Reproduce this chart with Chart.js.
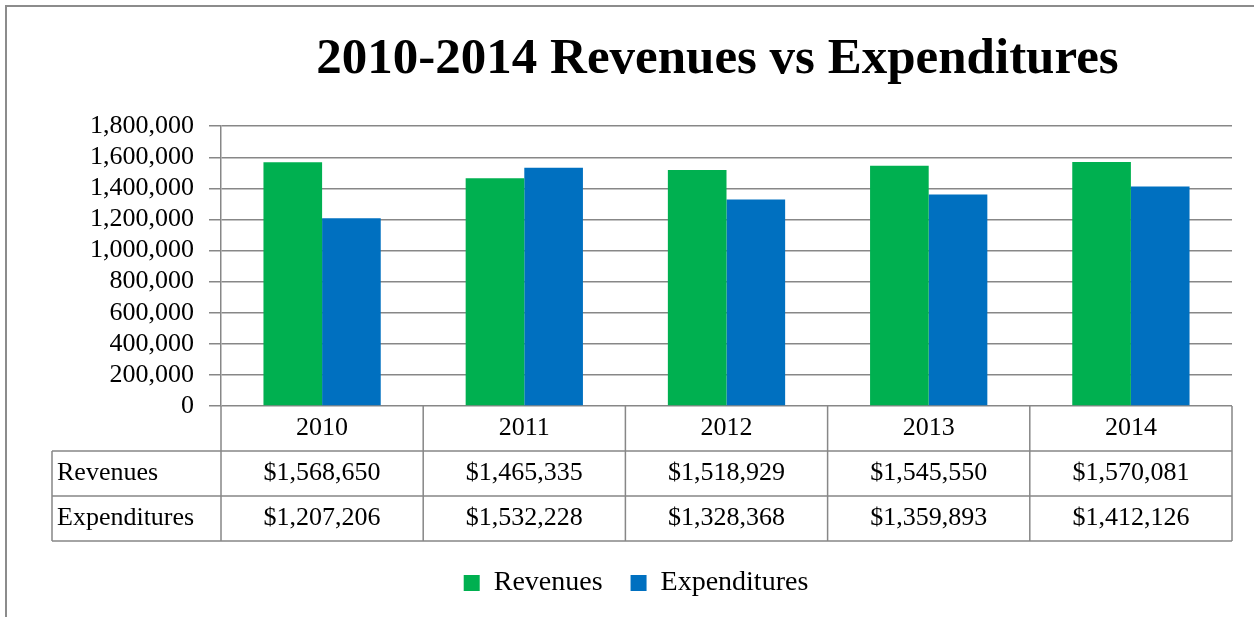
<!DOCTYPE html>
<html>
<head>
<meta charset="utf-8">
<title>2010-2014 Revenues vs Expenditures</title>
<script src="https://cdn.jsdelivr.net/npm/chart.js@4.4.1/dist/chart.umd.min.js"></script>
<style>
  html, body { margin: 0; padding: 0; background: #fff; }
  #chart-wrap { width: 1254px; height: 617px; }
</style>
</head>
<body>
<div id="chart-wrap"><canvas id="rev-chart" width="1254" height="617"></canvas></div>
<script>
// Chart data
const years = ['2010', '2011', '2012', '2013', '2014'];
const revenues = [1568650, 1465335, 1518929, 1545550, 1570081];
const expenditures = [1207206, 1532228, 1328368, 1359893, 1412126];
const seriesNames = ['Revenues', 'Expenditures'];
const yMax = 1800000;
const yStep = 200000;

const FONT = "'Liberation Serif', 'Times New Roman', serif";
const GRID = '#878787';
const GREEN = '#00b050';
const BLUE = '#0070c0';

// 1234567 -> "1,234,567"
function withCommas(v) {
  return String(Math.round(v)).replace(/\B(?=(\d{3})+(?!\d))/g, ',');
}

// White background + the chart frame (top and left edges only are visible)
const framePlugin = {
  id: 'frame',
  beforeDraw(chart) {
    const { ctx, width, height } = chart;
    ctx.save();
    ctx.fillStyle = '#fff';
    ctx.fillRect(0, 0, width, height);
    ctx.strokeStyle = '#8c8c8c';
    ctx.lineWidth = 2;
    ctx.beginPath();
    ctx.moveTo(6, height);
    ctx.lineTo(6, 6);
    ctx.lineTo(width, 6);
    ctx.stroke();
    ctx.restore();
  }
};

// Excel style data table under the plot area
const dataTablePlugin = {
  id: 'dataTable',
  afterDraw(chart) {
    const { ctx, chartArea } = chart;
    const x = chart.scales.x;
    const rowH = 45;
    const top = chartArea.bottom;
    const labelLeft = 52;
    const half = (chartArea.right - chartArea.left) / years.length / 2;

    ctx.save();
    ctx.strokeStyle = GRID;
    ctx.lineWidth = 1.5;
    ctx.beginPath();
    // horizontal rules
    for (let r = 1; r <= 3; r++) {
      ctx.moveTo(labelLeft, top + r * rowH);
      ctx.lineTo(chartArea.right, top + r * rowH);
    }
    // vertical rules between categories
    for (let i = 0; i < years.length; i++) {
      const left = x.getPixelForValue(i) - half;
      ctx.moveTo(left, top);
      ctx.lineTo(left, top + 3 * rowH);
    }
    ctx.moveTo(chartArea.right, top);
    ctx.lineTo(chartArea.right, top + 3 * rowH);
    ctx.moveTo(labelLeft, top + rowH);
    ctx.lineTo(labelLeft, top + 3 * rowH);
    ctx.stroke();

    ctx.fillStyle = '#000';
    ctx.font = '26px ' + FONT;
    ctx.textBaseline = 'middle';

    // row labels
    ctx.textAlign = 'left';
    ctx.fillText(seriesNames[0], labelLeft + 5, top + rowH * 1.5);
    ctx.fillText(seriesNames[1], labelLeft + 5, top + rowH * 2.5);

    // years + values
    ctx.textAlign = 'center';
    years.forEach((yr, i) => {
      const cx = x.getPixelForValue(i);
      ctx.fillText(yr, cx, top + rowH * 0.5);
      ctx.fillText('$' + withCommas(revenues[i]), cx, top + rowH * 1.5);
      ctx.fillText('$' + withCommas(expenditures[i]), cx, top + rowH * 2.5);
    });
    ctx.restore();
  }
};

// Nudge title and legend sideways so they sit like the original
const nudgePlugin = {
  id: 'nudge',
  afterLayout(chart) {
    if (chart.legend) {
      chart.legend.left += 20;
      chart.legend.right += 20;
    }
    if (chart.titleBlock) {
      chart.titleBlock.left -= 9;
      chart.titleBlock.right -= 9;
    }
  }
};

const canvas = document.getElementById('rev-chart');

new Chart(canvas, {
  type: 'bar',
  data: {
    labels: years,
    datasets: [
      {
        label: seriesNames[0],
        data: revenues,
        backgroundColor: GREEN,
        borderWidth: 0
      },
      {
        label: seriesNames[1],
        data: expenditures,
        backgroundColor: BLUE,
        borderWidth: 0
      }
    ]
  },
  options: {
    responsive: false,
    animation: false,
    categoryPercentage: 0.58,
    barPercentage: 1.0,
    layout: {
      padding: { left: 0, right: 22, top: 0, bottom: 10 }
    },
    plugins: {
      title: {
        display: true,
        text: '2010-2014 Revenues vs Expenditures',
        fullSize: false,
        color: '#000',
        font: { family: FONT, size: 51, weight: 'bold' },
        padding: { top: 29, bottom: 36 }
      },
      legend: {
        position: 'bottom',
        labels: {
          color: '#000',
          font: { family: FONT, size: 28 },
          boxWidth: 16,
          boxHeight: 16,
          padding: 28
        }
      },
      tooltip: { enabled: false }
    },
    scales: {
      x: {
        grid: { display: false },
        border: { display: false },
        ticks: { display: false },
        afterFit(scale) {
          scale.height = 135; // room for the data table
        }
      },
      y: {
        min: 0,
        max: yMax,
        ticks: {
          stepSize: yStep,
          autoSkip: false,
          color: '#000',
          padding: 15,
          font: { family: FONT, size: 26 },
          callback: (v) => withCommas(v)
        },
        grid: {
          color: GRID,
          lineWidth: 1.5,
          tickLength: 12
        },
        border: { color: GRID, width: 1.5 },
        afterFit(scale) {
          scale.width = 221;
        }
      }
    }
  },
  plugins: [framePlugin, dataTablePlugin, nudgePlugin]
});
</script>
</body>
</html>
